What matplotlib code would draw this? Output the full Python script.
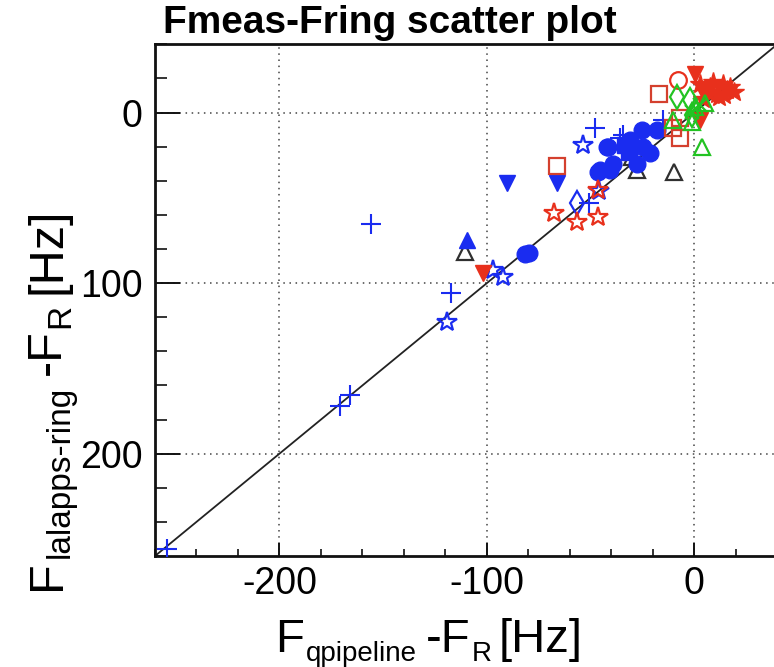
import matplotlib
matplotlib.use("Agg")
import matplotlib.pyplot as plt
from matplotlib.ticker import MultipleLocator, FixedLocator, FixedFormatter
from matplotlib.transforms import IdentityTransform

plt.rcParams["font.family"] = ["Liberation Sans", "DejaVu Sans"]

# ---- data: (F_qpipeline - F_R, F_lalapps-ring - F_R) in Hz, grouped by marker ----
black_tri_x = [-110.5, -27.8, -9.6, -30.2]
black_tri_y = [-81.6, -33.8, -34.7, -26.0]

blue_circle_x = [-79.5, -81.6, -42.2, -46.3, -39.0, -25.4, -18.1, -21.4, -27.8, -31.0,
                 -40.6, -24.7, -41.4, -45.4]
blue_circle_y = [-82.1, -83.0, -20.1, -34.7, -29.9, -10.4, -10.4, -24.0, -29.9, -16.2,
                 -33.8, -20.1, -20.1, -33.8]

blue_square_x = [-33.4, -31.5]
blue_square_y = [-19.1, -23.0]

blue_tri_down_x = [-90.4, -66.3]
blue_tri_down_y = [-41.4, -41.4]

blue_tri_up_x = [-109.4]
blue_tri_up_y = [-74.7]

blue_star_x = [-119.2, -97.0, -92.3, -53.8, -45.9]
blue_star_y = [-122.7, -92.3, -96.2, -19.1, -45.9]

blue_diamond_x = [-56.7]
blue_diamond_y = [-53.1]

blue_plus_x = [-155.8, -117.3, -165.9, -170.8, -254.3, -48.0, -34.5, -15.0, -35.8, -51.0]
blue_plus_y = [-65.5, -105.6, -165.4, -172.3, -256.1, -9.0, -13.3, -4.6, -15.0, -53.0]

red_star_open_x = [-67.6, -56.7, -46.3, -46.4]
red_star_open_y = [-59.1, -64.0, -61.1, -45.5]

red_square_x = [-66.3, -16.9, -6.9, -6.9, -10.2]
red_square_y = [-31.4, 11.1, -3.5, -15.2, -9.2]

red_circle_x = [-7.7]
red_circle_y = [18.9]

red_tri_down_x = [-101.7, 0.3, 2.7, 4.0]
red_tri_down_y = [-94.2, 22.8, -4.5, 12.0]

red_star_x = [2.7, 4.2, 7.6, 10.8, 13.9, 15.6, 17.2, 6.0, 9.0, 12.0, 19.0, 14.5]
red_star_y = [17.0, 8.2, 15.0, 11.1, 17.0, 13.0, 15.0, 12.0, 18.0, 9.0, 12.0, 10.0]

green_diamond_x = [-8.5, -2.0, -1.3]
green_diamond_y = [9.1, 7.2, -1.6]

green_tri_x = [3.5, -10.1, 5.2, -1.3, 0.3]
green_tri_y = [-20.1, -4.5, 5.3, -5.5, 3.3]

green_x_x = [-1.3, 2.7]
green_x_y = [0.4, 4.3]

axis_range = [-260, 40]
major_ticks = [-200, -100, 0]
x_tick_labels = ["-200", "-100", "0"]
y_tick_labels = ["200", "100", "0"]

BLUE = "#1a2cf0"
RED = "#e8301c"
RED_OPEN = "#d4402e"
GREEN = "#22c322"
BLACK = "#303030"

W, H = 774, 667
fig = plt.figure(figsize=(W / 100, H / 100), dpi=100)
ax = fig.add_axes([155 / W, 111 / H, (777.3 - 155) / W, (556 - 44.3) / H])
ax.set_xlim(axis_range)
ax.set_ylim(axis_range)

# identity reference line
ax.plot(axis_range, axis_range, color="#222222", lw=1.3, zorder=2)

ms = 12
ew = 1.6


def filled(x, y, marker, color, size=ms, z=3):
    ax.plot(x, y, ls="none", marker=marker, markersize=size, color=color,
            markeredgecolor=color, zorder=z)


def hollow(x, y, marker, color, size=ms, z=3):
    ax.plot(x, y, ls="none", marker=marker, markersize=size, markerfacecolor="none",
            markeredgecolor=color, markeredgewidth=ew, zorder=z)


hollow(black_tri_x, black_tri_y, "^", BLACK, 12)
filled(blue_circle_x, blue_circle_y, "o", BLUE, 12)
filled(blue_square_x, blue_square_y, "s", BLUE, 11)
filled(blue_tri_down_x, blue_tri_down_y, "v", BLUE, 12)
filled(blue_tri_up_x, blue_tri_up_y, "^", BLUE, 12)
hollow(blue_star_x, blue_star_y, "*", BLUE, 15)
hollow(blue_diamond_x, blue_diamond_y, "d", BLUE, 12)
ax.plot(blue_plus_x, blue_plus_y, ls="none", marker="+", markersize=14,
        markeredgewidth=1.5, color=BLUE, zorder=3)
hollow(red_star_open_x, red_star_open_y, "*", RED, 15, 4)
hollow(red_square_x, red_square_y, "s", RED_OPEN, 12, 4)
hollow(red_circle_x, red_circle_y, "o", RED, 12, 4)
filled(red_tri_down_x, red_tri_down_y, "v", RED, 12, 4)
filled(red_star_x, red_star_y, "*", RED, 15, 4)
hollow(green_diamond_x, green_diamond_y, "d", GREEN, 12, 5)
hollow(green_tri_x, green_tri_y, "^", GREEN, 12, 5)
ax.plot(green_x_x, green_x_y, ls="none", marker="x", markersize=10,
        markeredgewidth=1.6, color=GREEN, zorder=5)

# axes styling
for s in ax.spines.values():
    s.set_linewidth(2.0)
    s.set_color("#111111")

ax.xaxis.set_major_locator(FixedLocator(major_ticks))
ax.xaxis.set_major_formatter(FixedFormatter(x_tick_labels))
ax.yaxis.set_major_locator(FixedLocator(major_ticks))
ax.yaxis.set_major_formatter(FixedFormatter(y_tick_labels))
ax.xaxis.set_minor_locator(MultipleLocator(20))
ax.yaxis.set_minor_locator(MultipleLocator(20))

ax.tick_params(axis="both", which="both", direction="in", color="#111111",
               labelsize=27, top=False, right=False)
ax.tick_params(axis="x", which="major", length=9.5, width=1.4, pad=7)
ax.tick_params(axis="x", which="minor", length=5, width=1.2)
ax.tick_params(axis="y", which="major", length=18, width=1.4, pad=9)
ax.tick_params(axis="y", which="minor", length=8.5, width=1.2)

ax.grid(True, which="major", color="#444444", linestyle=(0, (1, 3)), linewidth=1.1)
ax.set_axisbelow(True)

# title
fig.text(163 / W, 1 - 33 / H, "Fmeas-Fring scatter plot", fontsize=28,
         fontweight="bold", ha="left", va="baseline")

# axis labels built from pieces so the subscripts can be sized freely
renderer = fig.canvas.get_renderer()


def compose(x0, y0, pieces, vertical=False):
    """pieces: (text, fontsize, subscript_drop_px, gap_before_px)"""
    pos = x0 if not vertical else y0
    for txt, size, drop, gap in pieces:
        pos += gap
        if vertical:
            t = fig.text(x0 + drop, pos, txt, fontsize=size, ha="left", va="baseline",
                         rotation=90, rotation_mode="anchor", transform=IdentityTransform())
            pos += t.get_window_extent(renderer).height
        else:
            t = fig.text(pos, y0 - drop, txt, fontsize=size, ha="left", va="baseline",
                         transform=IdentityTransform())
            pos += t.get_window_extent(renderer).width


compose(275, H - 652, [("F", 34, 0, 0), ("qpipeline", 20, 9, 2),
                       ("-F", 34, 0, 9), ("R", 20, 9, 1),
                       ("[Hz]", 34, 0, 7)])
compose(60, H - 590, [("F", 35, 0, 0), ("lalapps-ring", 24, 9, 2),
                      ("-F", 35, 0, 11), ("R", 24, 9, 1),
                      ("[Hz]", 35, 0, 10)], vertical=True)

fig.savefig("out.png", dpi=100)
